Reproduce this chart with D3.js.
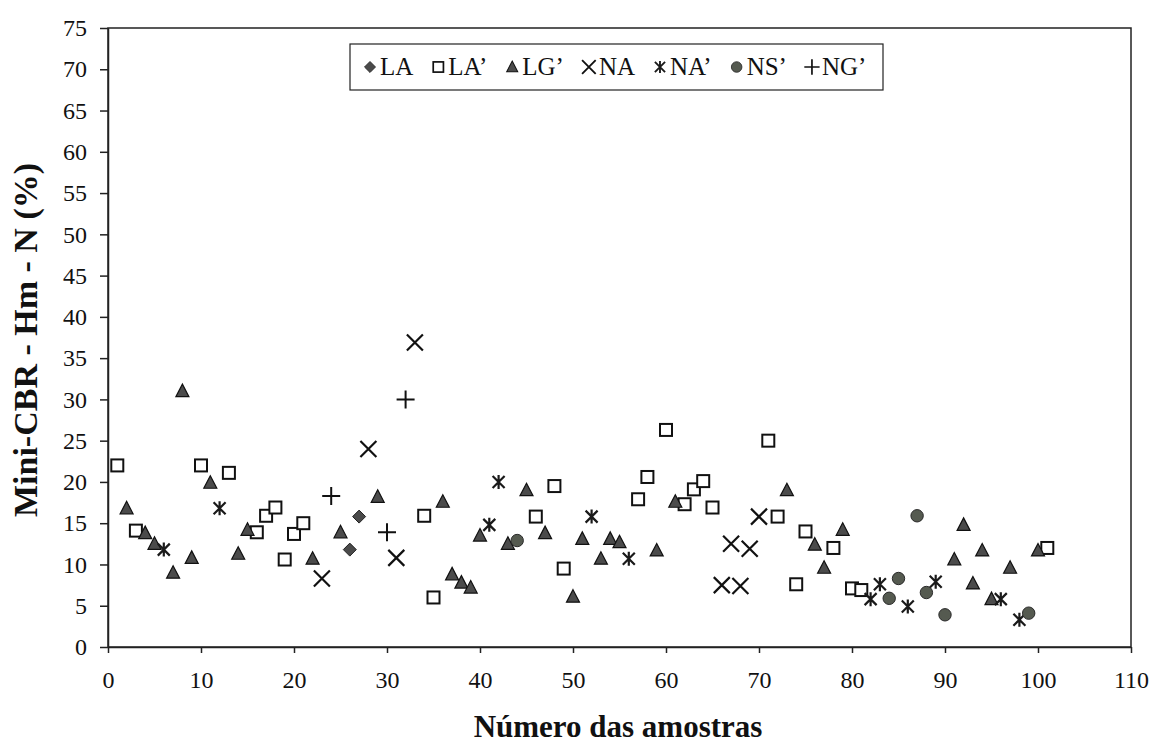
<!DOCTYPE html>
<html>
<head>
<meta charset="utf-8">
<script src="https://cdn.jsdelivr.net/npm/d3@7"></script>
<style>
  body { margin: 0; background: #fff; }
  text { font-family: "Liberation Serif", "Times New Roman", serif; fill: #111; }
</style>
</head>
<body>
<div id="chart"></div>
<script>
const width = 1151;
const height = 746;

// axis ticks
const xTicks = [0, 10, 20, 30, 40, 50, 60, 70, 80, 90, 100, 110];
const yTicks = [0, 5, 10, 15, 20, 25, 30, 35, 40, 45, 50, 55, 60, 65, 70, 75];

// LA
const laX = [26, 27];
const laY = [11.8, 15.8];

// LA'
const laPX = [1, 3, 10, 13, 16, 17, 18, 19, 20, 21, 34, 35, 46, 48, 49, 57, 58, 60, 62, 63, 64, 65, 71, 72, 74, 75, 78, 80, 81, 101];
const laPY = [22.0, 14.1, 22.0, 21.1, 13.9, 15.9, 16.9, 10.6, 13.7, 15.0, 15.9, 6.0, 15.8, 19.5, 9.5, 17.9, 20.6, 26.3, 17.3, 19.1, 20.1, 16.9, 25.0, 15.8, 7.6, 14.0, 12.0, 7.1, 6.9, 12.0];

// LG'
const lgX = [2, 4, 5, 7, 8, 9, 11, 14, 15, 22, 25, 29, 36, 37, 38, 39, 40, 43, 45, 47, 50, 51, 53, 54, 55, 59, 61, 73, 76, 77, 79, 91, 92, 93, 94, 95, 97, 100];
const lgY = [16.8, 13.8, 12.5, 9.0, 31.0, 10.8, 19.9, 11.3, 14.2, 10.7, 13.9, 18.2, 17.6, 8.8, 7.8, 7.2, 13.5, 12.5, 19.0, 13.8, 6.1, 13.1, 10.7, 13.1, 12.7, 11.7, 17.6, 19.0, 12.4, 9.6, 14.2, 10.6, 14.8, 7.7, 11.7, 5.8, 9.6, 11.7];

// NA
const naX = [23, 28, 31, 33, 66, 67, 68, 69, 70];
const naY = [8.3, 24.0, 10.8, 36.9, 7.5, 12.5, 7.4, 11.9, 15.8];

// NA'
const naPX = [6, 12, 41, 42, 52, 56, 82, 83, 86, 89, 96, 98];
const naPY = [11.8, 16.8, 14.8, 20.0, 15.8, 10.7, 5.8, 7.6, 4.9, 7.9, 5.8, 3.3];

// NS'
const nsX = [44, 84, 85, 87, 88, 90, 99];
const nsY = [12.9, 5.9, 8.3, 15.9, 6.6, 3.9, 4.1];

// NG'
const ngX = [24, 30, 32];
const ngY = [18.3, 13.9, 30.0];

const series = [
  { name: "LA",  shape: "diamond",  xs: laX,  ys: laY },
  { name: "LA\u2019", shape: "square",   xs: laPX, ys: laPY },
  { name: "LG\u2019", shape: "triangle", xs: lgX,  ys: lgY },
  { name: "NA",  shape: "times",    xs: naX,  ys: naY },
  { name: "NA\u2019", shape: "asterisk", xs: naPX, ys: naPY },
  { name: "NS\u2019", shape: "circle",   xs: nsX,  ys: nsY },
  { name: "NG\u2019", shape: "plus",     xs: ngX,  ys: ngY }
];

const margin = { top: 28, right: 20, bottom: 99, left: 108 };

const x = d3.scaleLinear().domain([0, 110]).range([margin.left, width - margin.right]);
const y = d3.scaleLinear().domain([0, 75]).range([height - margin.bottom, margin.top]);

const svg = d3.select("#chart")
  .append("svg")
  .attr("width", width)
  .attr("height", height);

// marker drawing - small paths centred at 0,0
function marker(g, shape) {
  if (shape === "diamond") {
    g.append("path").attr("d", "M0,-6.5L6.5,0L0,6.5L-6.5,0Z")
      .attr("fill", "#4a4a4a").attr("stroke", "#222").attr("stroke-width", 1);
  } else if (shape === "square") {
    g.append("rect").attr("x", -6).attr("y", -6).attr("width", 12).attr("height", 12)
      .attr("fill", "#fff").attr("stroke", "#111").attr("stroke-width", 2);
  } else if (shape === "triangle") {
    g.append("path").attr("d", "M0,-7L6.5,5.5L-6.5,5.5Z")
      .attr("fill", "#4b4b4b").attr("stroke", "#111").attr("stroke-width", 1.2);
  } else if (shape === "times") {
    g.append("path").attr("d", "M-8,-8L8,8M-8,8L8,-8")
      .attr("stroke", "#111").attr("stroke-width", 2.2).attr("fill", "none");
  } else if (shape === "asterisk") {
    g.append("path").attr("d", "M-6,-6L6,6M-6,6L6,-6M0,-7L0,7")
      .attr("stroke", "#1a1a1a").attr("stroke-width", 2.2).attr("fill", "none");
  } else if (shape === "circle") {
    g.append("circle").attr("r", 6.2)
      .attr("fill", "#555a50").attr("stroke", "#2a2a2a").attr("stroke-width", 1);
  } else if (shape === "plus") {
    g.append("path").attr("d", "M-9,0L9,0M0,-9L0,9")
      .attr("stroke", "#111").attr("stroke-width", 2).attr("fill", "none");
  }
}

// frame
svg.append("rect")
  .attr("x", x(0)).attr("y", y(75))
  .attr("width", x(110) - x(0)).attr("height", y(0) - y(75))
  .attr("fill", "none").attr("stroke", "#222").attr("stroke-width", 1.5);

// x axis
const xAxis = svg.append("g")
  .attr("transform", `translate(0,${y(0)})`)
  .call(d3.axisBottom(x).tickValues(xTicks).tickSize(6).tickSizeOuter(0).tickPadding(18));
xAxis.selectAll("text").style("font-size", "24px");
xAxis.select(".domain").attr("stroke", "#222").attr("stroke-width", 1.5);
xAxis.selectAll(".tick line").attr("stroke", "#222").attr("stroke-width", 1.5);

// y axis
const yAxis = svg.append("g")
  .attr("transform", `translate(${x(0)},0)`)
  .call(d3.axisLeft(y).tickValues(yTicks).tickSize(8).tickSizeOuter(0).tickPadding(13));
yAxis.selectAll("text").style("font-size", "24px");
yAxis.select(".domain").attr("stroke", "#222").attr("stroke-width", 1.5);
yAxis.selectAll(".tick line").attr("stroke", "#222").attr("stroke-width", 1.5);

// axis titles
svg.append("text")
  .attr("x", 618).attr("y", 737)
  .attr("text-anchor", "middle")
  .style("font-size", "31px").style("font-weight", "bold")
  .text("Número das amostras");

svg.append("text")
  .attr("transform", "translate(37,340) rotate(-90)")
  .attr("text-anchor", "middle")
  .style("font-size", "34px").style("font-weight", "bold")
  .text("Mini-CBR - Hm - N (%)");

// points
series.forEach(s => {
  const pts = s.xs.map((v, i) => [v, s.ys[i]]);
  svg.append("g").attr("class", "series")
    .selectAll("g")
    .data(pts)
    .enter()
    .append("g")
    .attr("transform", d => `translate(${x(d[0])},${y(d[1])})`)
    .each(function() { marker(d3.select(this), s.shape); });
});

// legend
const legend = svg.append("g").attr("class", "legend");
legend.append("rect")
  .attr("x", 350).attr("y", 44).attr("width", 533).attr("height", 46)
  .attr("fill", "#fff").attr("stroke", "#222").attr("stroke-width", 1.2);

let lx = 363;
series.forEach(s => {
  const item = legend.append("g").attr("transform", `translate(${lx},67)`);
  marker(item.append("g").attr("transform", "translate(7,0) scale(0.85)"), s.shape);
  const t = item.append("text")
    .attr("x", 17).attr("y", 8)
    .style("font-size", "25px")
    .text(s.name);
  lx += 17 + t.node().getComputedTextLength() + 18;
});
</script>
</body>
</html>
